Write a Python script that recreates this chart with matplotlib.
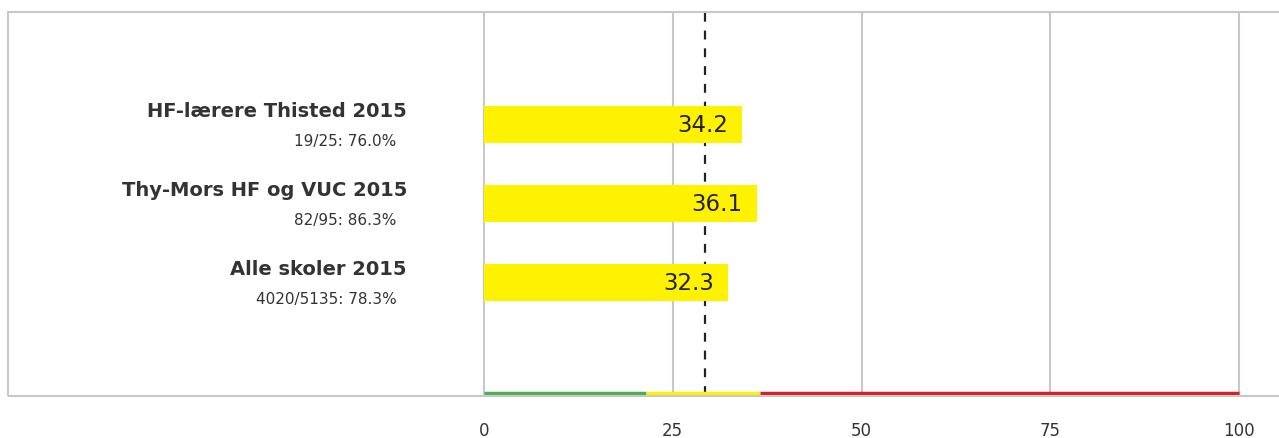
import matplotlib.pyplot as plt
import matplotlib.transforms as mtransforms
from matplotlib.patches import Rectangle

# data
groups = ['HF-lærere Thisted 2015', 'Thy-Mors HF og VUC 2015', 'Alle skoler 2015']
subtitles = ['19/25: 76.0%', '82/95: 86.3%', '4020/5135: 78.3%']
values = [34.2, 36.1, 32.3]
reference = 29.3
zone_edges = [0, 21.4, 36.6, 100]
zone_colors = ['#4caf50', '#fff200', '#d32027']
ticks = [0, 25, 50, 75, 100]

plt.rcParams['font.family'] = ['DejaVu Sans']
text_col = '#333333'
grid_col = '#c8c8c8'

fig = plt.figure(figsize=(12.79, 4.39), dpi=100)
ax = fig.add_axes([484 / 1279, 1 - 396 / 439, (1239 - 484) / 1279, (396 - 13) / 439])

ypos = list(range(len(groups)))
ax.barh(ypos, values, height=0.47, color='#fff200', zorder=4)
for y, v in zip(ypos, values):
    ax.annotate(f'{v:.1f}', (v, y), xytext=(-10, 0), textcoords='offset points',
                ha='right', va='center', fontsize=16.5, color='#222222', zorder=6)

ax.set_xlim(0, 100)
ax.set_ylim(3.43, -1.43)
ax.set_xticks(ticks)
ax.set_xticklabels([str(t) for t in ticks], fontsize=12, color=text_col)
ax.tick_params(axis='x', length=0, pad=19)
ax.set_yticks([])
for s in ax.spines.values():
    s.set_visible(False)
for t in ticks:
    ax.axvline(t, color=grid_col, lw=1.5, zorder=1, clip_on=False)
ax.axvline(reference, color='#222222', lw=1.6, ls=(0, (4, 4)), zorder=3)

# colour zones along the bottom
xt = ax.get_xaxis_transform()
for x0, x1, c in zip(zone_edges[:-1], zone_edges[1:], zone_colors):
    ax.plot([x0, x1], [0.006, 0.006], color=c, lw=2.5, transform=xt,
            solid_capstyle='butt', zorder=5, clip_on=False)

# group labels
bt = mtransforms.blended_transform_factory(ax.transAxes, ax.transData)
for y, g, s in zip(ypos, groups, subtitles):
    ax.text(-0.102, y - 0.18, g, transform=bt, ha='right', va='center',
            fontsize=14, fontweight='bold', color=text_col)
    ax.text(-0.116, y + 0.2, s, transform=bt, ha='right', va='center',
            fontsize=11, color=text_col)

# outer frame
fig.patches.append(Rectangle((8 / 1279, 1 - 397 / 439), 1.2, (397 - 13) / 439,
                             transform=fig.transFigure, fill=False,
                             edgecolor=grid_col, lw=1.5, zorder=0))

fig.savefig('out.png', dpi=100)
